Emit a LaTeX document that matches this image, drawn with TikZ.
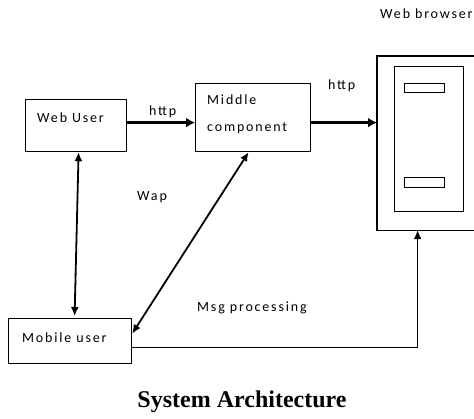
\documentclass[tikz,border=0pt]{standalone}
\usepackage{fontspec}
\setmainfont{Liberation Serif}
\newfontfamily\diagfont[LetterSpace=13]{Carlito}
\usetikzlibrary{arrows.meta}
\begin{document}
\begin{tikzpicture}[x=1pt,y=-1pt,
  box/.style={draw,line width=1.2pt,inner sep=0pt,anchor=north west},
  lbl/.style={font=\diagfont\fontsize{14}{16}\selectfont,inner sep=0pt,anchor=west},
  harrow/.style={line width=3.6pt,-{Latex[length=9pt,width=10pt]}},
  darrow/.style={line width=1.8pt,{Latex[length=9pt,width=8pt]}-{Latex[length=9pt,width=8pt]}},
  sarrow/.style={line width=1.5pt,-{Latex[length=9pt,width=8pt]}}]
\useasboundingbox (0,0) rectangle (474,418);
% boxes
\node[box,minimum width=101pt,minimum height=52pt] (web) at (25,99) {};
\node[box,minimum width=115pt,minimum height=68pt] (mid) at (195,83) {};
\node[box,draw=none,minimum width=97pt,minimum height=173pt] (outer) at (377,56) {};
\draw[line width=1.2pt] (outer.north east) -- (outer.north west) -- (outer.south west) -- (outer.south east);
\node[box,minimum width=69pt,minimum height=145pt] (inner) at (394,66) {};
\node[box,minimum width=40pt,minimum height=9pt] (slot1) at (404,83) {};
\node[box,minimum width=40pt,minimum height=10pt] (slot2) at (404,177) {};
\node[box,minimum width=123pt,minimum height=45pt] (mobile) at (8,318) {};
% labels
\node[lbl] (tbrowser) at (380,14) {Web browser};
\node[lbl] (tweb) at (37,118) {Web User};
\node[lbl] (thttp1) at (149,112) {http};
\node[lbl] (tmid1) at (207,100) {Middle};
\node[lbl] (tmid2) at (207,128) {component};
\node[lbl] (thttp2) at (328,86) {http};
\node[lbl] (twap) at (137,197) {Wap};
\node[lbl] (tmsg) at (197,308) {Msg processing};
\node[lbl] (tmobile) at (22,338) {Mobile user};
\node[font=\bfseries\fontsize{24}{28}\selectfont,inner sep=0pt] (caption) at (242,402) {System Architecture};
% connectors
\draw[harrow] ([yshift=3pt]web.east) -- ([yshift=3pt]web.east -| mid.west);
\draw[harrow] ([yshift=3pt]web.east -| mid.east) -- ([yshift=3pt]web.east -| outer.west);
\draw[darrow] ([xshift=2.5pt]web.south) -- ([xshift=4.5pt,yshift=2pt]mobile.north);
\draw[darrow] ([xshift=-4.5pt]mid.south) -- ([yshift=7.5pt]mobile.east);
\draw[sarrow] ([yshift=-6.5pt]mobile.east) -| ([xshift=-8.5pt]outer.south);
\end{tikzpicture}
\end{document}
